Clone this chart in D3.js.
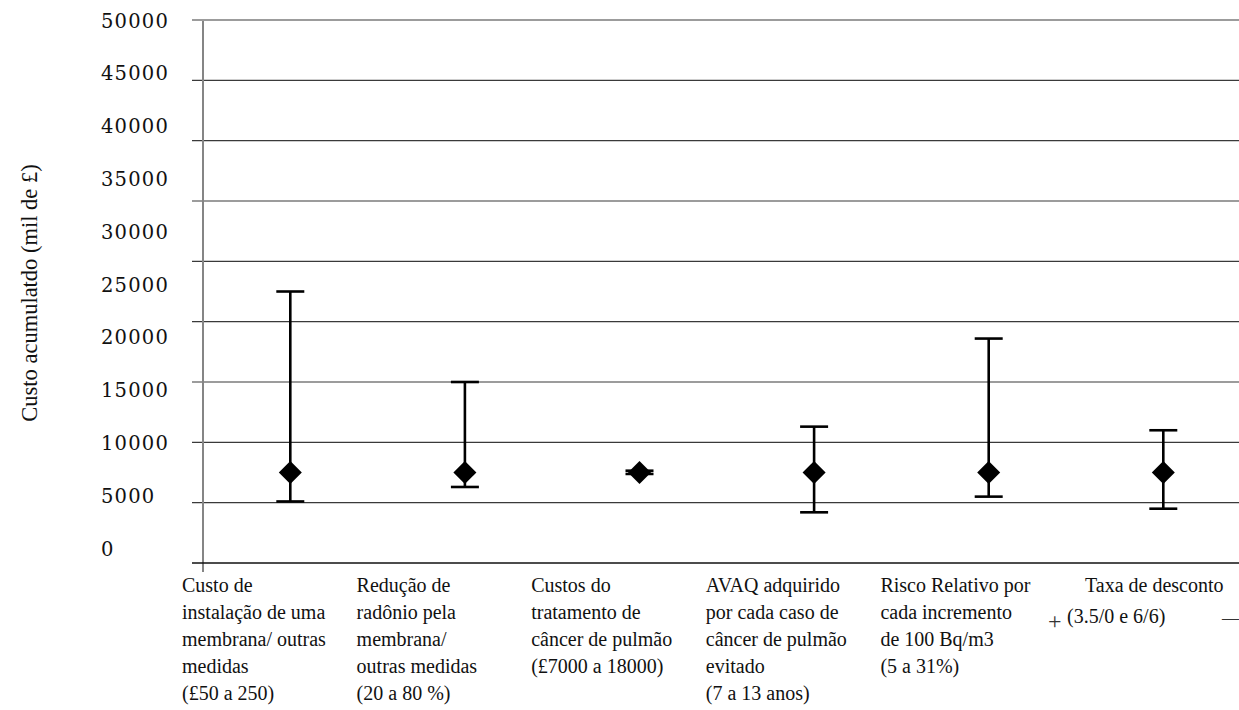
<!DOCTYPE html>
<html>
<head>
<meta charset="utf-8">
<script src="https://cdn.jsdelivr.net/npm/d3@7"></script>
<style>
  body { margin: 0; background: #fff; }
</style>
</head>
<body>
<div id="chart"></div>
<script>
var width = 1239;
var height = 710;

// category labels (one string per category, lines split by \n)
var categories = [
    "Custo de\ninstalação de uma\nmembrana/ outras\nmedidas\n(£50 a 250)",
    "Redução de\nradônio pela\nmembrana/\noutras medidas\n(20 a 80 %)",
    "Custos do\ntratamento de\ncâncer de pulmão\n(£7000 a 18000)",
    "AVAQ adquirido\npor cada caso de\ncâncer de pulmão\nevitado\n(7 a 13 anos)",
    "Risco Relativo por\ncada incremento\nde 100 Bq/m3\n(5 a 31%)",
    "Taxa de desconto\n(3.5/0 e 6/6)"
];

// base case value and the low / high ends of each sensitivity range
var baseValues = [7500, 7500, 7500, 7500, 7500, 7500];
var lowValues  = [5100, 6300, 7380, 4200, 5500, 4500];
var highValues = [22500, 15000, 7650, 11300, 18600, 11000];

// gridline values and the printed tick labels
var gridValues = [5000, 10000, 15000, 20000, 25000, 30000, 35000, 40000, 45000];
var tickLabels = [0, 5000, 10000, 15000, 20000, 25000, 30000, 35000, 40000, 45000, 50000];

var yTitle = "Custo acumulatdo (mil de £)";

var plotLeft = 203;
var plotTop = 20;
var plotBottom = 563;
var serif = "'Liberation Serif', 'Times New Roman', serif";

var svg = d3.select("#chart")
            .append("svg")
            .attr("width", width)
            .attr("height", height)
            .style("background", "#fff");

var x = d3.scaleBand()
          .domain(d3.range(categories.length))
          .range([plotLeft, plotLeft + 6 * 174.6])
          .padding(0);

var y = d3.scaleLinear()
          .domain([0, 45000])
          .range([plotBottom, plotTop]);

// the printed labels are spaced a little tighter than the gridlines
var yLabel = d3.scaleLinear()
          .domain([0, 50000])
          .range([550, 22]);

// gridlines
svg.append("g")
    .selectAll("line")
    .data(gridValues)
    .join("line")
    .attr("x1", 192)
    .attr("x2", width)
    .attr("y1", d => y(d))
    .attr("y2", d => y(d))
    .attr("stroke", "#3a3a3a")
    .attr("stroke-width", 1.2);

// y axis line
svg.append("line")
    .attr("x1", plotLeft)
    .attr("x2", plotLeft)
    .attr("y1", plotTop + 1)
    .attr("y2", plotBottom + 9)
    .attr("stroke", "#858585")
    .attr("stroke-width", 2);

// x axis line
svg.append("line")
    .attr("x1", 192)
    .attr("x2", width)
    .attr("y1", y(0))
    .attr("y2", y(0))
    .attr("stroke", "#111")
    .attr("stroke-width", 1.6);

// tick labels
svg.append("g")
    .selectAll("text")
    .data(tickLabels)
    .join("text")
    .attr("x", 101)
    .attr("y", d => yLabel(d))
    .attr("dominant-baseline", "middle")
    .style("font-family", "'DejaVu Serif', serif")
    .style("font-size", "19.5px")
    .style("letter-spacing", "1.2px")
    .attr("fill", "#111")
    .text(d => d);

// y axis title
svg.append("text")
    .attr("transform", "translate(37, 293) rotate(-90)")
    .style("text-anchor", "middle")
    .style("font-family", serif)
    .style("font-size", "22.5px")
    .attr("fill", "#111")
    .text(yTitle);

// error bars
var cx = i => x(i) + x.bandwidth() / 2;
var capHalf = 14;

var bars = svg.append("g")
    .selectAll("g")
    .data(d3.range(categories.length))
    .join("g");

bars.append("line")
    .attr("x1", cx)
    .attr("x2", cx)
    .attr("y1", i => y(lowValues[i]))
    .attr("y2", i => y(highValues[i]))
    .attr("stroke", "#000")
    .attr("stroke-width", 2.6);

bars.append("line")
    .attr("x1", i => cx(i) - capHalf)
    .attr("x2", i => cx(i) + capHalf)
    .attr("y1", i => y(highValues[i]))
    .attr("y2", i => y(highValues[i]))
    .attr("stroke", "#000")
    .attr("stroke-width", 2.6);

bars.append("line")
    .attr("x1", i => cx(i) - capHalf)
    .attr("x2", i => cx(i) + capHalf)
    .attr("y1", i => y(lowValues[i]))
    .attr("y2", i => y(lowValues[i]))
    .attr("stroke", "#000")
    .attr("stroke-width", 2.6);

var diamond = d3.symbol().type(d3.symbolSquare).size(265);
bars.append("path")
    .attr("d", diamond)
    .attr("transform", i => "translate(" + cx(i) + "," + y(baseValues[i]) + ") rotate(45)")
    .attr("fill", "#000");

// category labels under the axis
var labels = svg.append("g")
    .selectAll("text")
    .data(categories)
    .join("text")
    .attr("x", (d, i) => x(i) - 21)
    .attr("y", 592)
    .style("font-family", serif)
    .style("font-size", "20px")
    .attr("fill", "#111");

labels.selectAll("tspan")
    .data(d => d.split("\n"))
    .join("tspan")
    .attr("x", function() { return this.parentNode.getAttribute("x"); })
    .attr("dy", (d, j) => j === 0 ? 0 : 27)
    .text(d => d);

// last label sits a bit differently, with stray marks around its second line
var lastLabel = labels.filter((d, i) => i === categories.length - 1);
lastLabel.selectAll("tspan")
    .attr("x", (d, j) => x(categories.length - 1) + (j === 0 ? 9 : -9))
    .attr("dy", (d, j) => j === 0 ? 0 : 31);

svg.append("text")
    .attr("x", x(categories.length - 1) - 28)
    .attr("y", 629)
    .style("font-family", serif)
    .style("font-size", "24px")
    .style("font-weight", "300")
    .attr("fill", "#333")
    .text("+");

svg.append("text")
    .attr("x", 1222)
    .attr("y", 623)
    .style("font-family", serif)
    .style("font-size", "17px")
    .attr("fill", "#333")
    .text("—");
</script>
</body>
</html>
